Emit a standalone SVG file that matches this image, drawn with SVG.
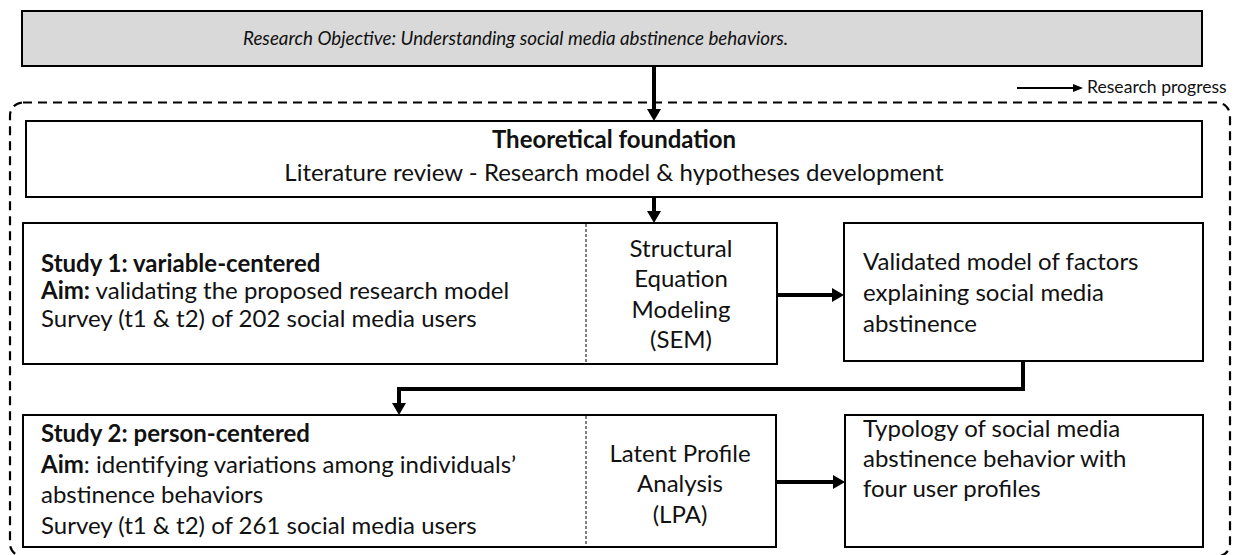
<svg xmlns="http://www.w3.org/2000/svg" width="1233" height="555" viewBox="0 0 1233 555">
  <style>
    .box { fill: #ffffff; stroke: #000000; stroke-width: 2; }
    .title-box { fill: #d9d9d9; stroke: #000000; stroke-width: 2; }
    .frame { fill: none; stroke: #000000; stroke-width: 2.2; stroke-dasharray: 9 6; }
    .divider { stroke: #000000; stroke-width: 1; stroke-dasharray: 3 2; }
    .flow { fill: none; stroke: #000000; stroke-width: 4; }
    .legend-line { fill: none; stroke: #000000; stroke-width: 2; }
    text { font-family: Lato, "Liberation Sans", sans-serif; fill: #111111; font-size: 24px; }
    .title { font-size: 18.8px; font-style: italic; }
    .legend { font-size: 17.6px; }
    .bold { font-weight: bold; }
    .mid { text-anchor: middle; }
  </style>
  <defs>
    <marker id="head" markerUnits="userSpaceOnUse" viewBox="0 0 12 14" markerWidth="12" markerHeight="14" refX="0" refY="7" orient="auto">
      <path d="M0,0 L12,7 L0,14 z" fill="#000000"/>
    </marker>
    <marker id="head-small" markerUnits="userSpaceOnUse" viewBox="0 0 10 8" markerWidth="10" markerHeight="8" refX="0" refY="4" orient="auto">
      <path d="M0,0 L10,4 L0,8 z" fill="#000000"/>
    </marker>
  </defs>

  <!-- objective banner -->
  <g id="objective">
    <rect class="title-box" x="22" y="11" width="1180" height="55"/>
    <text class="title" x="243" y="45">Research Objective:  Understanding social media abstinence behaviors.</text>
  </g>

  <!-- legend -->
  <g id="legend">
    <line class="legend-line" x1="1017" y1="88" x2="1073" y2="88" marker-end="url(#head-small)"/>
    <text class="legend" x="1087" y="93">Research progress</text>
  </g>

  <!-- dashed research frame -->
  <g id="frame">
    <rect class="frame" x="10" y="102.5" width="1220" height="454" rx="13"/>
  </g>

  <g id="theory">
    <rect class="box" x="26" y="121" width="1176" height="76"/>
    <text class="bold mid" x="614" y="148">Theoretical foundation</text>
    <text class="mid" x="614" y="181">Literature review - Research model &amp; hypotheses development</text>
  </g>

  <g id="study1">
    <rect class="box" x="23" y="223" width="754" height="141"/>
    <line class="divider" x1="586" y1="224" x2="586" y2="363"/>
    <text x="41" y="272"><tspan class="bold">Study 1: variable-centered</tspan></text>
    <text x="41" y="299"><tspan class="bold">Aim:</tspan> validating the proposed research model</text>
    <text x="41" y="327">Survey (t1 &amp; t2) of 202 social media users</text>
    <text class="mid" x="681" y="257">Structural</text>
    <text class="mid" x="681" y="287">Equation</text>
    <text class="mid" x="681" y="318">Modeling</text>
    <text class="mid" x="681" y="348">(SEM)</text>
  </g>

  <g id="result1">
    <rect class="box" x="844" y="223" width="359" height="138"/>
    <text x="863" y="270">Validated model of factors</text>
    <text x="863" y="301">explaining social media</text>
    <text x="863" y="332">abstinence</text>
  </g>

  <g id="study2">
    <rect class="box" x="23" y="415" width="753" height="132"/>
    <line class="divider" x1="586" y1="416" x2="586" y2="546"/>
    <text x="41" y="442"><tspan class="bold">Study 2: person-centered</tspan></text>
    <text x="41" y="473"><tspan class="bold">Aim</tspan>: identifying variations among individuals’</text>
    <text x="41" y="503">abstinence behaviors</text>
    <text x="41" y="534">Survey (t1 &amp; t2) of 261 social media users</text>
    <text class="mid" x="680" y="462">Latent Profile</text>
    <text class="mid" x="680" y="492">Analysis</text>
    <text class="mid" x="680" y="523">(LPA)</text>
  </g>

  <g id="result2">
    <rect class="box" x="845" y="415" width="358" height="132"/>
    <text x="863" y="437">Typology of social media</text>
    <text x="863" y="467">abstinence behavior with</text>
    <text x="863" y="497">four user profiles</text>
  </g>

  <!-- connectors -->
  <g id="connectors">
    <line class="flow" x1="654" y1="66" x2="654" y2="109" marker-end="url(#head)"/>
    <line class="flow" x1="654" y1="197" x2="654" y2="211" marker-end="url(#head)"/>
    <line class="flow" x1="777" y1="295" x2="832" y2="295" marker-end="url(#head)"/>
    <path class="flow" d="M1023,361 V389 H399 V403" marker-end="url(#head)"/>
    <line class="flow" x1="776" y1="482" x2="833" y2="482" marker-end="url(#head)"/>
  </g>
</svg>
